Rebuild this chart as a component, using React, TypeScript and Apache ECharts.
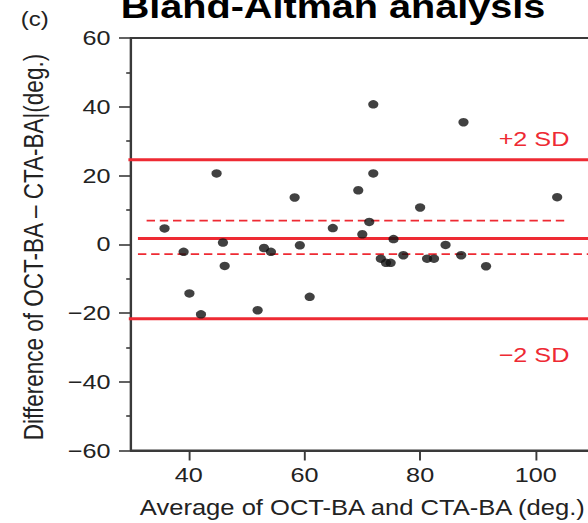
import React, { useEffect, useRef } from "react";
import * as echarts from "echarts";

// Horizontal stretch of the reference picture
const STRETCH = 1.2;
const CHART_W = 500;
const CHART_H = 523;

const titleText = "Bland-Altman analysis";
const panelLabel = "(c)";
const xAxisName = "Average of OCT-BA and CTA-BA (deg.)";
const yAxisName = "Difference of OCT-BA \u2013 CTA-BA|(deg.)";

const xTicks = [40, 60, 80, 100];

// Scatter points [average, difference]
const points: [number, number][] = [
  [35.8, 4.6], [39.1, -2.2], [40.1, -14.3], [42.1, -20.4], [44.8, 20.6],
  [45.9, 0.5], [46.2, -6.3], [51.9, -19.2], [53.0, -1.1], [54.2, -2.2],
  [58.3, 13.6], [59.2, -0.3], [60.9, -15.3], [64.9, 4.7], [69.3, 15.7],
  [70.0, 2.9], [71.9, 40.7], [87.5, 35.5], [71.9, 20.6], [80.0, 10.7],
  [71.2, 6.5], [75.4, 1.5], [73.2, -4.2], [74.1, -5.4], [74.9, -5.4],
  [77.1, -3.2], [81.2, -4.2], [82.4, -4.2], [84.4, -0.2], [87.1, -3.2],
  [91.4, -6.4], [103.7, 13.7],
];

// Reference lines: [xStart, xEnd, y]
const upperLoA: [number, number, number] = [29.4, 110, 24.6];
const meanDiff: [number, number, number] = [31.2, 110, 1.7];
const lowerLoA: [number, number, number] = [29.6, 110, -21.7];
const upperCI: [number, number, number] = [32.7, 105.6, 6.9];
const lowerCI: [number, number, number] = [31.2, 110, -2.9];

const sdLabels = ["+2 SD", "\u22122 SD"];

const RED = "#ee2a33";
const DARK = "#3a3a3a";
const TXT = "#222222";
const FONT = "'Liberation Sans', Arial, Helvetica, sans-serif";

function hLine(name: string, l: [number, number, number], width: number, dashed: boolean) {
  return {
    name,
    type: "line",
    data: [[l[0], l[2]], [l[1], l[2]]],
    symbol: "none",
    clip: false,
    silent: true,
    z: 3,
    lineStyle: {
      color: RED,
      width,
      type: dashed ? [7, 4] : "solid",
    },
  };
}

export default function App() {
  const ref = useRef<HTMLDivElement>(null);

  useEffect(() => {
    if (!ref.current) return;
    const chart = echarts.init(ref.current, null, { renderer: "svg" });
    const fmtY = (v: number) => (v < 0 ? "\u2212" + Math.abs(v) : String(v));
    chart.setOption({
      animation: false,
      backgroundColor: "#ffffff",
      textStyle: { fontFamily: FONT },
      grid: {
        left: 131 / STRETCH,
        top: 38,
        bottom: 72,
        right: CHART_W - 593.6 / STRETCH,
        show: true,
        borderColor: DARK,
        borderWidth: 1.8,
      },
      xAxis: {
        type: "value",
        min: 30,
        max: 110,
        interval: 10,
        name: xAxisName,
        nameLocation: "middle",
        nameGap: 57,
        nameTextStyle: { fontSize: 21.3, color: TXT, fontFamily: FONT, verticalAlign: "middle" },
        axisLine: { show: true, onZero: false, lineStyle: { color: DARK, width: 1.8 } },
        axisTick: { show: true, inside: false, length: 10, customValues: xTicks, lineStyle: { color: DARK, width: 1.6 } },
        axisLabel: { show: true, customValues: xTicks, fontSize: 21, color: TXT, margin: 14, fontFamily: FONT },
        splitLine: { show: false },
      },
      yAxis: {
        type: "value",
        min: -60,
        max: 60,
        interval: 20,
        axisLine: { show: true, onZero: false, lineStyle: { color: DARK, width: 1.8 } },
        axisTick: { show: true, inside: false, length: 10, lineStyle: { color: DARK, width: 1.6 } },
        minorTick: { show: true, splitNumber: 2, length: 4, lineStyle: { color: DARK, width: 1.6 } },
        axisLabel: { fontSize: 21, color: TXT, margin: 17, formatter: fmtY, fontFamily: FONT },
        splitLine: { show: false },
      },
      series: [
        hLine("+2 SD", upperLoA, 3, false),
        hLine("mean", meanDiff, 3, false),
        hLine("-2 SD", lowerLoA, 3, false),
        hLine("upper CI", upperCI, 1.8, true),
        hLine("lower CI", lowerCI, 1.8, true),
        {
          name: "points",
          type: "scatter",
          data: points,
          symbol: "circle",
          symbolSize: 8.5,
          z: 5,
          itemStyle: { color: "#111111" },
        },
      ],
      graphic: [
        {
          type: "text",
          x: 277.5,
          y: 23,
          style: {
            text: titleText,
            fontSize: 33,
            fontWeight: "bold",
            fontFamily: FONT,
            fill: "#000000",
            textAlign: "center",
            textVerticalAlign: "bottom",
          },
        },
        {
          type: "text",
          x: 29,
          y: 19,
          style: {
            text: panelLabel,
            fontSize: 20,
            fontFamily: FONT,
            fill: TXT,
            textAlign: "center",
            textVerticalAlign: "middle",
          },
        },
        {
          type: "text",
          x: 28,
          y: 247,
          rotation: Math.PI / 2,
          style: {
            text: yAxisName,
            fontSize: 22.5,
            fontFamily: FONT,
            fill: TXT,
            textAlign: "center",
            textVerticalAlign: "middle",
          },
        },
        {
          type: "text",
          x: 534 / STRETCH,
          y: 139,
          style: {
            text: sdLabels[0],
            fontSize: 21,
            fontFamily: FONT,
            fill: RED,
            textAlign: "center",
            textVerticalAlign: "middle",
          },
        },
        {
          type: "text",
          x: 534 / STRETCH,
          y: 355,
          style: {
            text: sdLabels[1],
            fontSize: 21,
            fontFamily: FONT,
            fill: RED,
            textAlign: "center",
            textVerticalAlign: "middle",
          },
        },
      ],
    });
    return () => chart.dispose();
  }, []);

  return (
    <div
      style={{
        position: "fixed",
        left: 0,
        top: 0,
        width: 588,
        height: 523,
        overflow: "hidden",
        background: "#ffffff",
      }}
    >
      <div
        ref={ref}
        style={{
          width: CHART_W,
          height: CHART_H,
          transform: `scaleX(${STRETCH})`,
          transformOrigin: "0 0",
        }}
      />
    </div>
  );
}
